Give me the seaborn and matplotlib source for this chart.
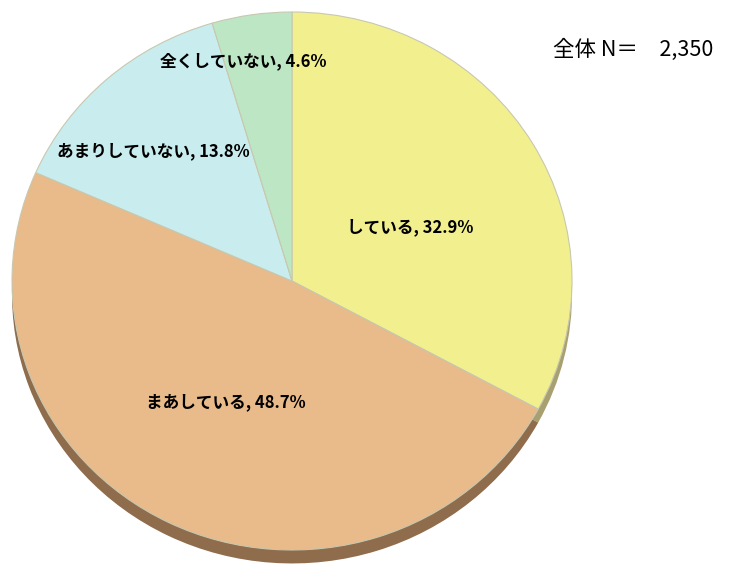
import matplotlib
matplotlib.use("Agg")
import matplotlib.pyplot as plt
import seaborn as sns
import numpy as np

categories = ["している", "まあしている", "あまりしていない", "全くしていない"]
values = [32.9, 48.7, 13.8, 4.6]
title_text = "全体 N＝　2,350"

colors = ["#F2F08E", "#E9BA8A", "#C9EDEE", "#BDE6C4"]
shadow_colors = ["#A8A070", "#8E6C4C", "#8E9C9C", "#8A9C8C"]
label_radii = [0.467, 0.508, 0.69, 0.836]
label_angle_offsets = [-5.3, -1.6, 4.4, 3.8]

sns.set_theme(style="white")
plt.rcParams['font.family'] = ['Noto Sans CJK JP', 'DejaVu Sans']

W, H = 739, 570
fig = plt.figure(figsize=(W / 100, H / 100), dpi=100)
cx, cy, rx, ry = 292, 281, 280, 269
depth = 0.05
top_px = cy - ry
bot_px = cy + ry * (1 + depth)
ax = fig.add_axes([(cx - rx) / W, (H - bot_px) / H, 2 * rx / W, (bot_px - top_px) / H])

# shadow / depth
ax.pie(values, colors=shadow_colors, startangle=90, counterclock=False,
       center=(0, -depth), radius=1, wedgeprops=dict(linewidth=0), frame=True)
ax.pie(values, colors=colors, startangle=90, counterclock=False,
       center=(0, 0), radius=1, wedgeprops=dict(linewidth=0.8, edgecolor="#C8C8B0"), frame=True)
ax.set_aspect("auto")
ax.set_xlim(-1, 1)
ax.set_ylim(-1 - depth, 1)
ax.axis("off")

cum = np.cumsum([0] + values[:-1])
total = sum(values)
for cat, v, c0, r, off in zip(categories, values, cum, label_radii, label_angle_offsets):
    ang = np.deg2rad(90 - (c0 + v / 2) / total * 360 + off)
    ax.text(r * np.cos(ang), r * np.sin(ang), f"{cat}, {v:.1f}%",
            ha="center", va="center", fontsize=12, fontweight="bold", color="black")

fig.text(553 / W, 1 - 50 / H, title_text, ha="left", va="center", fontsize=15.5, color="black")

fig.savefig("out.png", dpi=100)
